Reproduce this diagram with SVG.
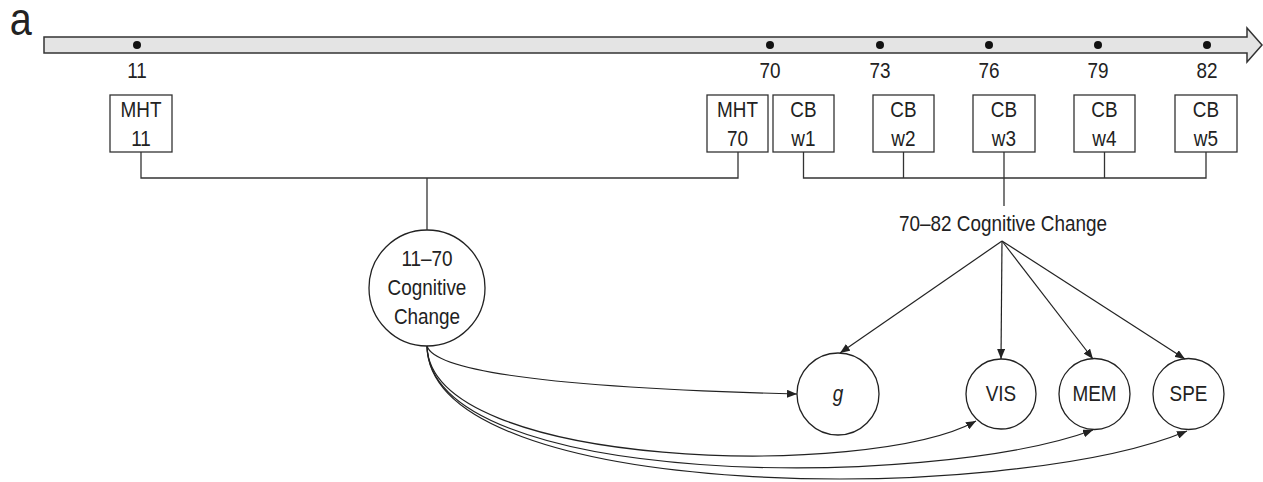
<svg xmlns="http://www.w3.org/2000/svg" width="1263" height="482" viewBox="0 0 1263 482">
  <style>
    text { font-family: "Liberation Sans", Arial, sans-serif; font-size: 22px; fill: #222;
           transform: scaleX(0.86); transform-box: fill-box; transform-origin: center; }
    .mid { text-anchor: middle; }
    .box { fill: #fff; stroke: #333; stroke-width: 1.3; }
    .node { fill: #fff; stroke: #222; stroke-width: 1.3; }
    .wire { fill: none; stroke: #333; stroke-width: 1.3; }
    .arrow { fill: none; stroke: #222; stroke-width: 1.2; marker-end: url(#head); }
    .dot { fill: #111; }
  </style>
  <defs>
    <marker id="head" viewBox="0 0 10 8" refX="10" refY="4" markerWidth="10" markerHeight="8" markerUnits="userSpaceOnUse" orient="auto">
      <path d="M0,0 L10,4 L0,8 Z" fill="#222"/>
    </marker>
  </defs>

  <!-- panel letter -->
  <text x="8" y="35" style="font-size:46px">a</text>

  <!-- time axis -->
  <g id="timeline">
    <polygon points="44,37 1247,37 1247,28 1262,45 1247,62 1247,53 44,53" fill="#e4e4e4" stroke="#333" stroke-width="1.5"/>
    <circle class="dot" cx="137" cy="45" r="4"/>
    <circle class="dot" cx="770" cy="45" r="4"/>
    <circle class="dot" cx="880" cy="45" r="4"/>
    <circle class="dot" cx="989" cy="45" r="4"/>
    <circle class="dot" cx="1098" cy="45" r="4"/>
    <circle class="dot" cx="1207" cy="45" r="4"/>
    <text class="mid" x="137" y="78">11</text>
    <text class="mid" x="770" y="78">70</text>
    <text class="mid" x="880" y="78">73</text>
    <text class="mid" x="989" y="78">76</text>
    <text class="mid" x="1098" y="78">79</text>
    <text class="mid" x="1207" y="78">82</text>
  </g>

  <!-- measurement boxes -->
  <g id="mht11"><rect class="box" x="110" y="95" width="62" height="57"/><text class="mid" x="141" y="117">MHT</text><text class="mid" x="141" y="146">11</text></g>
  <g id="mht70"><rect class="box" x="707" y="95" width="61" height="57"/><text class="mid" x="737.5" y="117">MHT</text><text class="mid" x="737.5" y="146">70</text></g>
  <g id="cbw1"><rect class="box" x="773" y="95" width="61" height="57"/><text class="mid" x="803.5" y="117">CB</text><text class="mid" x="803.5" y="146">w1</text></g>
  <g id="cbw2"><rect class="box" x="873" y="95" width="61" height="57"/><text class="mid" x="903.5" y="117">CB</text><text class="mid" x="903.5" y="146">w2</text></g>
  <g id="cbw3"><rect class="box" x="973" y="95" width="62" height="57"/><text class="mid" x="1004" y="117">CB</text><text class="mid" x="1004" y="146">w3</text></g>
  <g id="cbw4"><rect class="box" x="1074" y="95" width="61" height="57"/><text class="mid" x="1104.5" y="117">CB</text><text class="mid" x="1104.5" y="146">w4</text></g>
  <g id="cbw5"><rect class="box" x="1175" y="95" width="62" height="57"/><text class="mid" x="1206" y="117">CB</text><text class="mid" x="1206" y="146">w5</text></g>

  <!-- latent change factors -->
  <g id="change1170">
    <circle class="node" cx="427" cy="288" r="58"/>
    <text class="mid" x="427" y="266">11–70</text>
    <text class="mid" x="427" y="295">Cognitive</text>
    <text class="mid" x="427" y="324">Change</text>
  </g>
  <g id="change7082">
    <text class="mid" x="1003" y="231">70–82 Cognitive Change</text>
  </g>

  <!-- outcome factors -->
  <g id="g"><circle class="node" cx="838" cy="394" r="41"/><text class="mid" x="838" y="401" style="font-style:italic">g</text></g>
  <g id="vis"><circle class="node" cx="1001" cy="394" r="35"/><text class="mid" x="1001" y="401">VIS</text></g>
  <g id="mem"><circle class="node" cx="1094.5" cy="394" r="35.5"/><text class="mid" x="1094.5" y="401">MEM</text></g>
  <g id="spe"><circle class="node" cx="1188.5" cy="394" r="35.5"/><text class="mid" x="1188.5" y="401">SPE</text></g>

  <g id="connectors">
    <!-- brackets joining the waves -->
    <path class="wire" d="M141,152 V178 H738 V152"/>
    <path class="wire" d="M427,178 V230"/>
    <path class="wire" d="M803.5,152 V178 H1206 V152"/>
    <path class="wire" d="M903.5,152 V178"/>
    <path class="wire" d="M1104.5,152 V178"/>
    <path class="wire" d="M1004,152 V206"/>
    <!-- 70–82 change to outcomes -->
    <path class="arrow" d="M1002,241 L840,353"/>
    <path class="arrow" d="M1002,241 L1001,359"/>
    <path class="arrow" d="M1002,241 L1093,359"/>
    <path class="arrow" d="M1002,241 L1185,359"/>
    <!-- 11–70 change to outcomes -->
    <path class="arrow" d="M427,346 C435,372 560,388 797,394"/>
    <path class="arrow" d="M427,346 C430,470 870,480 976,421"/>
    <path class="arrow" d="M427,346 C430,490 930,490 1093,430"/>
    <path class="arrow" d="M427,346 C430,505 1010,505 1187,431"/>
  </g>
</svg>
